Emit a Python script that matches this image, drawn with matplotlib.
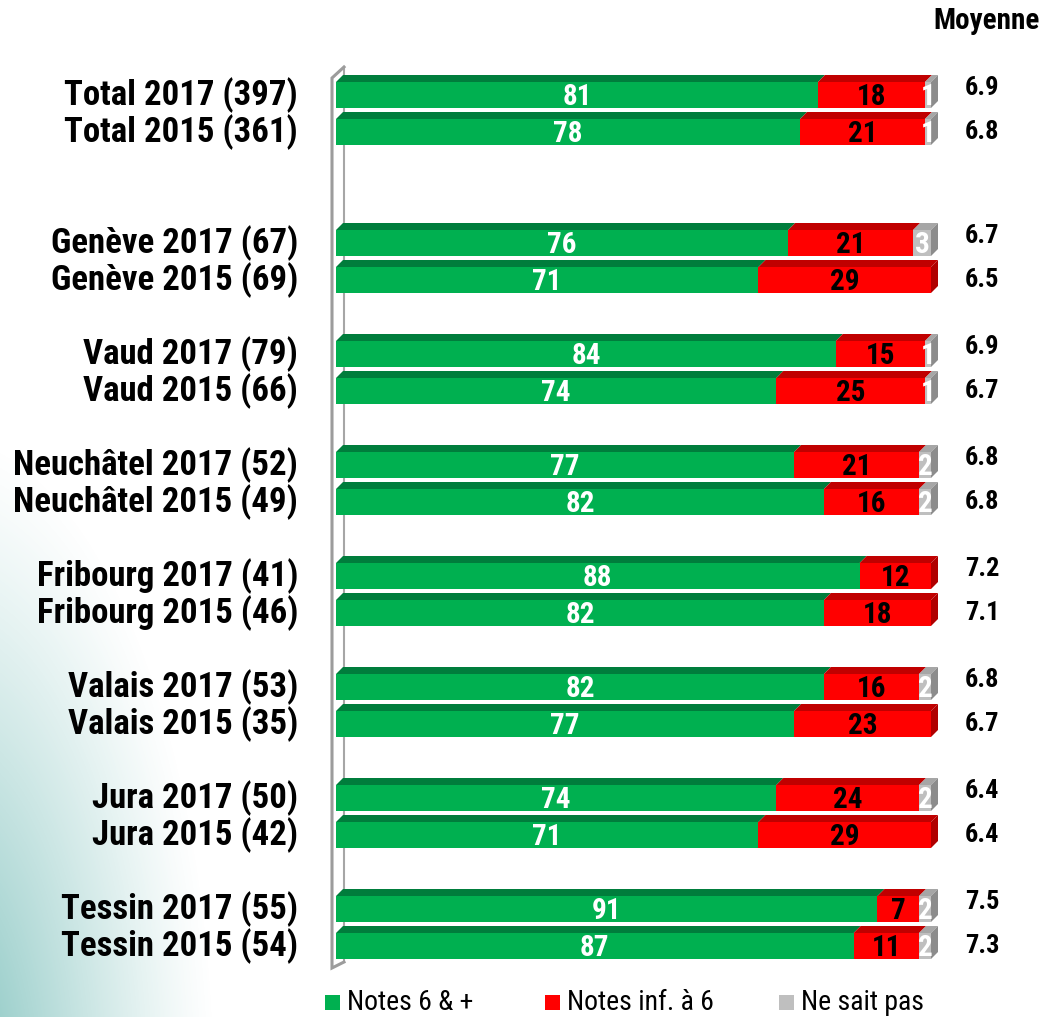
import matplotlib
matplotlib.use("Agg")
import matplotlib.pyplot as plt
from matplotlib import font_manager as fm
from matplotlib.font_manager import FontProperties
from matplotlib.patches import Polygon, Rectangle
import numpy as np

# ---------------- data ----------------
labels = ["Total 2017 (397)", "Total 2015 (361)",
          "Genève 2017 (67)", "Genève 2015 (69)",
          "Vaud 2017 (79)", "Vaud 2015 (66)",
          "Neuchâtel 2017 (52)", "Neuchâtel 2015 (49)",
          "Fribourg 2017 (41)", "Fribourg 2015 (46)",
          "Valais 2017 (53)", "Valais 2015 (35)",
          "Jura 2017 (50)", "Jura 2015 (42)",
          "Tessin 2017 (55)", "Tessin 2015 (54)"]
notes_6_plus = [81, 78, 76, 71, 84, 74, 77, 82, 88, 82, 82, 77, 74, 71, 91, 87]
notes_inf_6 = [18, 21, 21, 29, 15, 25, 21, 16, 12, 18, 16, 23, 24, 29, 7, 11]
ne_sait_pas = [1, 1, 3, 0, 1, 1, 2, 2, 0, 0, 2, 0, 2, 0, 2, 2]
moyenne = [6.9, 6.8, 6.7, 6.5, 6.9, 6.7, 6.8, 6.8, 7.2, 7.1, 6.8, 6.7, 6.4, 6.4, 7.5, 7.3]
series_names = ["Notes 6 & +", "Notes inf. à 6", "Ne sait pas"]


# ---------------- fonts ----------------
def _stretch_num(s):
    if isinstance(s, str):
        return {"ultra-condensed": 100, "extra-condensed": 200, "condensed": 300,
                "semi-condensed": 400}.get(s, 500)
    return s


def _weight_num(w):
    if isinstance(w, str):
        return {"bold": 700, "normal": 400, "regular": 400, "book": 400, "medium": 500,
                "semibold": 600, "demibold": 600, "light": 300}.get(w, 400)
    return w


prefs = ["Liberation Sans Narrow", "Arial Narrow", "Roboto Condensed", "Open Sans Condensed",
         "Noto Sans Condensed", "DejaVu Sans Condensed", "Noto Sans", "Roboto", "Open Sans",
         "Liberation Sans", "Lato", "Inter"]


def pick_font(weight):
    best = None
    for f in fm.fontManager.ttflist:
        name = f.name
        fname = f.fname
        if any(b in name for b in ("Mono", "Serif", "CJK")) or "Italic" in fname or f.style != "normal":
            continue
        cond = (_stretch_num(f.stretch) < 500 or "Condensed" in fname or "Narrow" in fname
                or "Condensed" in name or "Narrow" in name)
        if not cond:
            continue
        if "SemiCondensed" in fname or "ExtraCondensed" in fname:
            continue
        if abs(_weight_num(f.weight) - weight) > 50:
            continue
        rank = next((i for i, p in enumerate(prefs) if name.startswith(p)), 99)
        if best is None or rank < best[0]:
            best = (rank, fname)
    return best[1] if best else None


bold_path = pick_font(700)
reg_path = pick_font(400)
CONDENSED = bold_path is not None and reg_path is not None
if CONDENSED:
    FB = FontProperties(fname=bold_path)
    FR = FontProperties(fname=reg_path)
    s_lab, s_num, s_mean, s_top, s_leg = 25, 21, 19, 21, 20
else:
    FB = FontProperties(family=["Liberation Sans", "DejaVu Sans"], weight="bold")
    FR = FontProperties(family=["Liberation Sans", "DejaVu Sans"])
    s_lab, s_num, s_mean, s_top, s_leg = 22, 19, 17, 18, 18


def fp(base, size):
    p = base.copy()
    p.set_size(size)
    return p


W, H = 1042, 1017
fig = plt.figure(figsize=(W / 100, H / 100), dpi=100)

# ---------------- background gradient ----------------
bg = fig.add_axes([0, 0, 1, 1], zorder=-10)
yy, xx = np.mgrid[0:H, 0:W]
d = np.sqrt(((xx + 60) / 240.0) ** 2 + ((H + 80 - yy) / 580.0) ** 2)
alpha = np.clip(1.15 - d, 0, 1) ** 1.2
alpha = np.clip(alpha * 0.85, 0, 1)
img = np.zeros((H, W, 4))
img[..., 0] = 120 / 255
img[..., 1] = 190 / 255
img[..., 2] = 185 / 255
img[..., 3] = alpha
bg.imshow(img, extent=[0, W, H, 0], aspect="auto", interpolation="bilinear")
bg.set_xlim(0, W)
bg.set_ylim(H, 0)
bg.axis("off")

# ---------------- main axes ----------------
x0px, x100px = 336, 931
ytop_px, ybot_px = 58, 983
ax = fig.add_axes([x0px / W, 1 - ybot_px / H, (x100px - x0px) / W, (ybot_px - ytop_px) / H])
ax.set_xlim(0, 100)
ax.set_ylim(24, -1)
ax.axis("off")
pxx = (x100px - x0px) / 100.0  # px per x unit
pxy = (ybot_px - ytop_px) / 25.0  # px per y unit

# row positions: pairs per group, extra blank gap after Total
ypos = []
slot = 0
for i in range(len(labels)):
    ypos.append(slot)
    slot += 1
    if i % 2 == 1:
        slot += 2 if i == 1 else 1

bar_h = 26 / pxy
dx = 7 / pxx
dy = 7 / pxy

front = ["#00B050", "#FF0000", "#BFBFBF"]
top = ["#007D3C", "#C00000", "#A6A6A6"]
side = ["#006B33", "#B00000", "#8C8C8C"]
txtcol = ["white", "black", "white"]

# axis wall lines (3D floor edge)
fx = (332 - x0px) / pxx
bx = (344 - x0px) / pxx
ft = (78 - ytop_px) / pxy - 1
fb = (968 - ytop_px) / pxy - 1
bt = (67 - ytop_px) / pxy - 1
bb = (962 - ytop_px) / pxy - 1
ax.plot([bx, bx], [bt, bb], color="#A6A6A6", lw=1.5, clip_on=False, zorder=1)
ax.plot([bx, fx, fx, bx], [bt, ft, fb, bb], color="#9C9C9C", lw=2.2, clip_on=False, zorder=1,
        solid_joinstyle="miter")

series = [notes_6_plus, notes_inf_6, ne_sait_pas]
for i, y in enumerate(ypos):
    left = 0
    vals = [s[i] for s in series]
    last = max(k for k, v in enumerate(vals) if v > 0)
    for k, v in enumerate(vals):
        if v <= 0:
            continue
        ax.barh(y, v, left=left, height=bar_h, color=front[k], edgecolor="none", zorder=3)
        yt = y - bar_h / 2
        ax.add_patch(Polygon([(left, yt), (left + v, yt), (left + v + dx, yt - dy), (left + dx, yt - dy)],
                             closed=True, facecolor=top[k], edgecolor="none", zorder=3, clip_on=False))
        if k == last:
            xr = left + v
            ax.add_patch(Polygon([(xr, yt), (xr + dx, yt - dy), (xr + dx, yt + bar_h - dy), (xr, yt + bar_h)],
                                 closed=True, facecolor=side[k], edgecolor="none", zorder=3, clip_on=False))
        ax.text(left + v / 2, y + 0.06, str(v), ha="center", va="center", color=txtcol[k],
                fontproperties=fp(FB, s_num), zorder=5, clip_on=False)
        left += v
    ax.text((298 - x0px) / pxx, y, labels[i], ha="right", va="center",
            fontproperties=fp(FB, s_lab), color="black", clip_on=False)
    off = -0.2 if i % 2 == 0 else 0.0
    ax.text((965 - x0px) / pxx, y + off, f"{moyenne[i]:.1f}", ha="left", va="center",
            fontproperties=fp(FB, s_mean), color="black", clip_on=False)

fig.text(1040 / W, 1 - 21 / H, "Moyenne", ha="right", va="center", fontproperties=fp(FB, s_top))

# legend
leg_x = [325, 545, 779]
for k, name in enumerate(series_names):
    fig.add_artist(Rectangle((leg_x[k] / W, 1 - 1010 / H), 15 / W, 15 / H, transform=fig.transFigure,
                             facecolor=front[k], edgecolor="none"))
    fig.text((leg_x[k] + 22) / W, 1 - 1002 / H, name, ha="left", va="center", fontproperties=fp(FR, s_leg))

fig.savefig("out.png", dpi=100)
